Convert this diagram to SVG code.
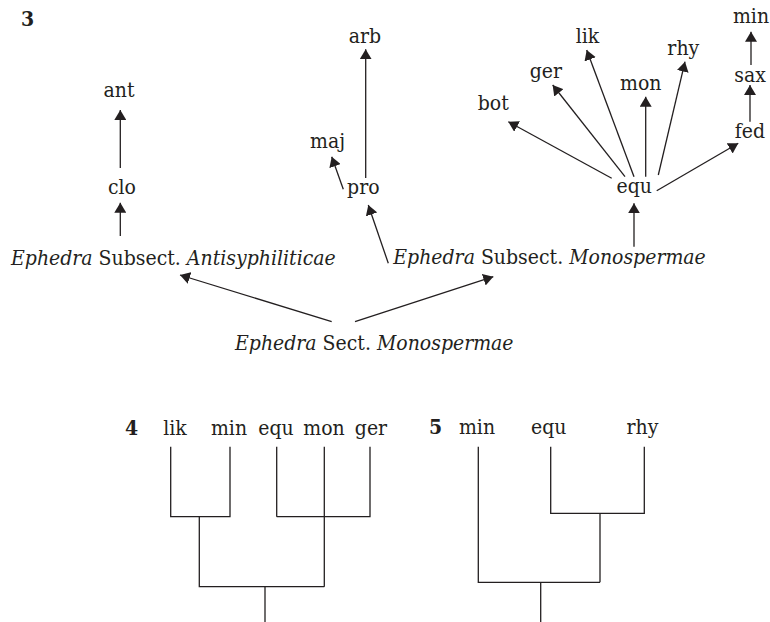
<svg xmlns="http://www.w3.org/2000/svg" width="770" height="622" viewBox="0 0 770 622">
<style>
text{font-family:"DejaVu Serif Condensed","DejaVu Serif",serif;font-stretch:condensed;font-size:21px;fill:#231f20}
.c{text-anchor:middle}
.b{font-weight:bold}
.i{font-style:italic}
.e line,.e path{stroke:#231f20;stroke-width:1.3;fill:none}
.a{marker-end:url(#ah)}
</style>
<defs>
<marker id="ah" viewBox="0 0 10 12" refX="10" refY="6" markerWidth="10" markerHeight="12" markerUnits="userSpaceOnUse" orient="auto">
<path d="M0,0 L10,6 L0,12 z" fill="#231f20"/>
</marker>
</defs>
<rect width="770" height="622" fill="#fff"/>
<text class="b" x="21" y="26">3</text>
<g id="n-ant"><text class="c" x="119" y="97">ant</text></g>
<g id="n-clo"><text class="c" x="122" y="194">clo</text></g>
<g id="n-arb"><text class="c" x="365" y="43">arb</text></g>
<g id="n-maj"><text class="c" x="327.5" y="148">maj</text></g>
<g id="n-pro"><text class="c" x="363.3" y="194">pro</text></g>
<g id="n-min"><text class="c" x="751" y="23">min</text></g>
<g id="n-lik"><text class="c" x="587.5" y="43">lik</text></g>
<g id="n-rhy"><text class="c" x="683.3" y="55">rhy</text></g>
<g id="n-ger"><text class="c" x="545.8" y="78">ger</text></g>
<g id="n-sax"><text class="c" x="750" y="82">sax</text></g>
<g id="n-mon"><text class="c" x="640.8" y="90">mon</text></g>
<g id="n-bot"><text class="c" x="493.3" y="110">bot</text></g>
<g id="n-fed"><text class="c" x="750" y="138">fed</text></g>
<g id="n-equ"><text class="c" x="634.2" y="193">equ</text></g>
<g id="n-antisyph"><text x="11" y="265"><tspan class="i">Ephedra</tspan> Subsect. <tspan class="i">Antisyphiliticae</tspan></text></g>
<g id="n-monosp-sub"><text x="393.3" y="264"><tspan class="i">Ephedra</tspan> Subsect. <tspan class="i">Monospermae</tspan></text></g>
<g id="n-monosp-sect"><text x="235" y="350"><tspan class="i">Ephedra</tspan> Sect. <tspan class="i">Monospermae</tspan></text></g>
<g id="connectors" class="e">
<line class="a" x1="120.3" y1="168" x2="120.3" y2="110"/>
<line class="a" x1="120.3" y1="236" x2="120.3" y2="202.7"/>
<line class="a" x1="365.7" y1="178" x2="365.7" y2="49.3"/>
<line class="a" x1="343.3" y1="189.3" x2="331.7" y2="156.7"/>
<line class="a" x1="388.3" y1="263.3" x2="368.3" y2="205"/>
<line class="a" x1="611.7" y1="178.3" x2="508.3" y2="121.7"/>
<line class="a" x1="625" y1="176.7" x2="552.7" y2="85"/>
<line class="a" x1="634" y1="176.7" x2="586.7" y2="50"/>
<line class="a" x1="645.7" y1="176.7" x2="645.7" y2="96.7"/>
<line class="a" x1="658.3" y1="175" x2="685" y2="61.7"/>
<line class="a" x1="656.7" y1="190.7" x2="738.3" y2="143.3"/>
<line class="a" x1="750" y1="121.7" x2="750" y2="85"/>
<line class="a" x1="751" y1="65" x2="751" y2="31.7"/>
<line class="a" x1="634" y1="246.7" x2="634" y2="203.3"/>
<line class="a" x1="331.7" y1="321.7" x2="180" y2="275"/>
<line class="a" x1="355" y1="321.7" x2="493.3" y2="276.7"/>
</g>
<text class="b" x="125" y="435">4</text>
<g id="t4-lik"><text class="c" x="175" y="435">lik</text></g>
<g id="t4-min"><text class="c" x="229" y="435">min</text></g>
<g id="t4-equ"><text class="c" x="276" y="435">equ</text></g>
<g id="t4-mon"><text class="c" x="324" y="435">mon</text></g>
<g id="t4-ger"><text class="c" x="371" y="435">ger</text></g>
<g id="tree4" class="e">
<path d="M170.7,446.7 V516.7 H230 V446.7"/>
<path d="M276.7,516.7 H370 V446.7"/>
<path d="M324.3,446.7 V586.7"/>
<path d="M199.3,516.7 V586.7 H324.3"/>
<path d="M265,586.7 V622"/>
<path d="M276.7,446.7 V516.7"/>
</g>
<text class="b" x="429" y="434">5</text>
<g id="t5-min"><text class="c" x="477" y="434">min</text></g>
<g id="t5-equ"><text class="c" x="548.7" y="434">equ</text></g>
<g id="t5-rhy"><text class="c" x="642.5" y="434">rhy</text></g>
<g id="tree5" class="e">
<path d="M550.7,446.7 V513.3 H644.3 V446.7"/>
<path d="M600,513.3 V582.3"/>
<path d="M478.3,446.7 V582.3 H600"/>
<path d="M540.7,582.3 V622"/>
</g>
</svg>
